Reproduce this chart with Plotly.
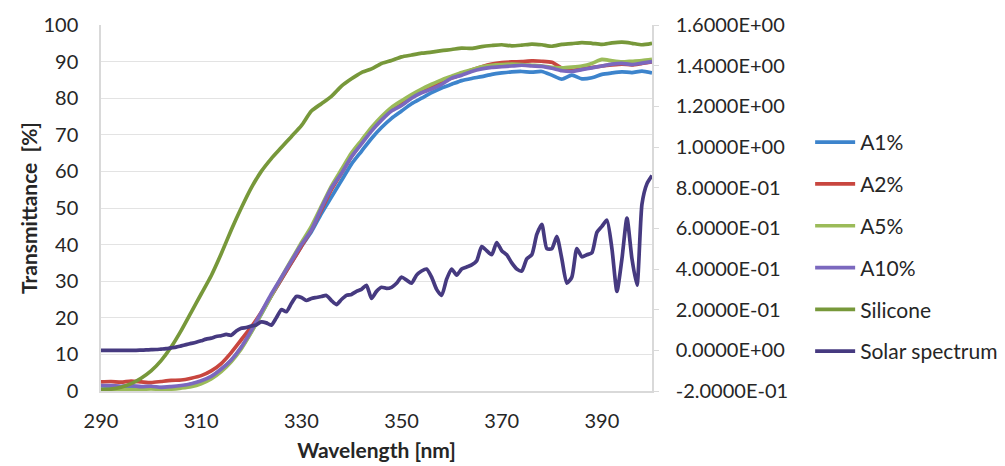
import plotly.graph_objects as go

# ---- data ----
wl2 = list(range(290, 401, 2))  # wavelength grid for transmittance series [nm]
wl1 = list(range(290, 401, 1))  # wavelength grid for solar spectrum [nm]

a1 = [1.2, 1.3, 1.1, 1.3, 1.0, 1.1, 0.9, 1.0, 1.3, 1.8, 2.6, 3.8, 5.8, 8.3, 11.8, 16.2, 21.0, 26.0, 30.5, 35.0,
      39.5, 43.5, 48.5, 53.0, 57.5, 62.0, 65.5, 69.0, 72.0, 74.5, 76.5, 78.5, 80.0, 81.5, 82.8, 83.8, 84.8, 85.4,
      85.9, 86.5, 86.9, 87.2, 87.3, 87.1, 87.3, 86.3, 85.2, 86.3, 85.3, 85.6, 86.5, 86.9, 87.2, 87.0, 87.4, 86.9]
a2 = [2.5, 2.6, 2.4, 2.7, 2.5, 2.3, 2.6, 2.9, 3.0, 3.5, 4.2, 5.5, 7.5, 10.5, 14.0, 17.5, 21.5, 26.0, 30.5, 35.0,
      39.5, 44.0, 49.5, 55.0, 59.5, 64.0, 67.8, 71.5, 74.5, 77.0, 78.8, 80.5, 82.0, 83.2, 84.5, 85.5, 86.5, 87.7,
      88.6, 89.3, 89.7, 89.9, 90.0, 90.2, 90.1, 89.8, 88.2, 87.6, 88.0, 88.4, 88.8, 89.1, 89.3, 89.1, 89.5, 89.9]
a5 = [0.5, 0.4, 0.5, 0.4, 0.5, 0.6, 0.4, 0.5, 0.8, 1.2, 2.0, 3.3, 5.3, 8.0, 11.5, 16.0, 21.0, 26.0, 31.0, 35.8,
      40.5, 45.0, 50.5, 56.0, 60.5, 65.0, 68.5, 72.0, 75.0, 77.5, 79.3, 81.0, 82.5, 83.8, 85.0, 86.0, 87.0, 87.8,
      88.6, 89.0, 89.2, 89.3, 89.2, 89.0, 88.8, 88.4, 88.3, 88.5, 88.8, 89.5, 90.6, 90.2, 89.9, 90.1, 90.3, 90.6]
a10 = [1.5, 1.5, 1.3, 1.5, 1.2, 1.3, 1.0, 1.2, 1.5, 2.0, 2.8, 4.0, 6.0, 8.5, 12.0, 16.5, 21.5, 26.5, 31.0, 35.5,
       40.0, 44.0, 50.0, 55.5, 59.5, 64.0, 67.5, 71.0, 74.0, 76.5, 78.0, 80.0, 81.5, 82.5, 83.8, 85.5, 86.3, 87.3,
       88.0, 88.4, 88.6, 88.8, 89.0, 88.8, 88.7, 88.2, 87.5, 87.3, 87.8, 88.3, 88.8, 89.3, 89.5, 89.2, 89.6, 90.0]
silicone = [0.3, 0.5, 1.0, 2.0, 3.5, 5.5, 8.3, 12.0, 16.5, 21.5, 26.5, 31.5, 37.5, 44.0, 50.0, 55.5, 60.0, 63.5,
            66.5, 69.5, 72.5, 76.5, 78.5, 80.5, 83.3, 85.3, 87.0, 88.0, 89.5, 90.3, 91.3, 91.8, 92.3, 92.6, 93.0,
            93.3, 93.7, 93.6, 94.1, 94.4, 94.6, 94.3, 94.5, 94.8, 94.6, 94.2, 94.7, 94.9, 95.2, 95.0, 94.7, 95.1,
            95.3, 95.0, 94.6, 95.0]
solar = [0.0, 0.0, 0.0, 0.0, 0.0, 0.0, 0.0, 0.0, 0.001, 0.002, 0.003, 0.004, 0.006, 0.008, 0.012, 0.016, 0.022,
         0.028, 0.034, 0.040, 0.047, 0.055, 0.060, 0.068, 0.072, 0.078, 0.074, 0.095, 0.108, 0.112, 0.120, 0.125,
         0.140, 0.135, 0.124, 0.160, 0.200, 0.190, 0.230, 0.265, 0.260, 0.245, 0.255, 0.260, 0.265, 0.270, 0.245,
         0.225, 0.250, 0.270, 0.275, 0.290, 0.300, 0.320, 0.255, 0.290, 0.310, 0.305, 0.310, 0.330, 0.360, 0.345,
         0.330, 0.370, 0.390, 0.400, 0.360, 0.300, 0.270, 0.350, 0.400, 0.370, 0.400, 0.410, 0.420, 0.440, 0.510,
         0.490, 0.470, 0.530, 0.490, 0.470, 0.430, 0.400, 0.390, 0.450, 0.470, 0.570, 0.620, 0.500, 0.500, 0.560,
         0.450, 0.330, 0.360, 0.500, 0.460, 0.470, 0.480, 0.580, 0.610, 0.640, 0.500, 0.290, 0.450, 0.650, 0.450,
         0.320, 0.720, 0.820, 0.860]

x_ticks = [290, 310, 330, 350, 370, 390]
y_ticks = list(range(0, 101, 10))
y2_ticks = [-0.2, 0.0, 0.2, 0.4, 0.6, 0.8, 1.0, 1.2, 1.4, 1.6]
y2_labels = ["-2.0000E-01", "0.0000E+00", "2.0000E-01", "4.0000E-01", "6.0000E-01", "8.0000E-01",
             "1.0000E+00", "1.2000E+00", "1.4000E+00", "1.6000E+00"]

FONT = "Lato, 'Open Sans', sans-serif"

fig = go.Figure()
series = [
    ("A1%", wl2, a1, "#3D84CC", "y"),
    ("A2%", wl2, a2, "#C8463F", "y"),
    ("A5%", wl2, a5, "#9BBB59", "y"),
    ("A10%", wl2, a10, "#7B68BE", "y"),
    ("Silicone", wl2, silicone, "#77983A", "y"),
    ("Solar spectrum", wl1, solar, "#463A80", "y2"),
]
for name, xs, ys, col, ax in series:
    fig.add_trace(go.Scatter(x=xs, y=ys, name=name, mode="lines", yaxis=ax,
                             legendgroup=name,
                             line=dict(color=col, width=3.7, shape="spline", smoothing=0.6)))

# page body has an 8px margin -> compensate so the plot area lands where the reference has it
fig.update_layout(
    width=1005, height=466,
    margin=dict(l=93, r=361, t=17, b=83, autoexpand=False),
    paper_bgcolor="white", plot_bgcolor="white",
    font=dict(family=FONT, size=20, color="#262626"),
    showlegend=True,
    legend=dict(x=1.287, y=0.735, xanchor="left", yanchor="top",
                traceorder="grouped", tracegroupgap=11.5,
                font=dict(family=FONT, size=21, color="#262626"),
                bgcolor="rgba(0,0,0,0)", itemwidth=40),
    xaxis=dict(range=[290, 400], tickvals=x_ticks, showgrid=False, zeroline=False,
               showline=True, linecolor="#D9D9D9", linewidth=1.5,
               ticks="outside", ticklen=11, tickcolor="rgba(0,0,0,0)", automargin=False,
               title=dict(text="<b>Wavelength [nm]</b>", font=dict(size=21), standoff=13)),
    yaxis=dict(range=[0, 100], tickvals=y_ticks, showgrid=True, gridcolor="#E3E3E3", gridwidth=1.2,
               zeroline=False, showline=True, linecolor="#D9D9D9", linewidth=1.5,
               ticks="outside", ticklen=17, tickcolor="rgba(0,0,0,0)", automargin=False,
               title=dict(text="<b>Transmittance  [%]</b>", font=dict(size=21), standoff=0)),
    yaxis2=dict(range=[-0.2, 1.6], tickvals=y2_ticks, ticktext=y2_labels, overlaying="y", side="right",
                showgrid=False, zeroline=False, showline=True, linecolor="#D9D9D9", linewidth=1.5,
                ticks="outside", ticklen=5, tickcolor="#D9D9D9", ticklabelstandoff=13, automargin=False),
)

fig.write_html("out.html")
